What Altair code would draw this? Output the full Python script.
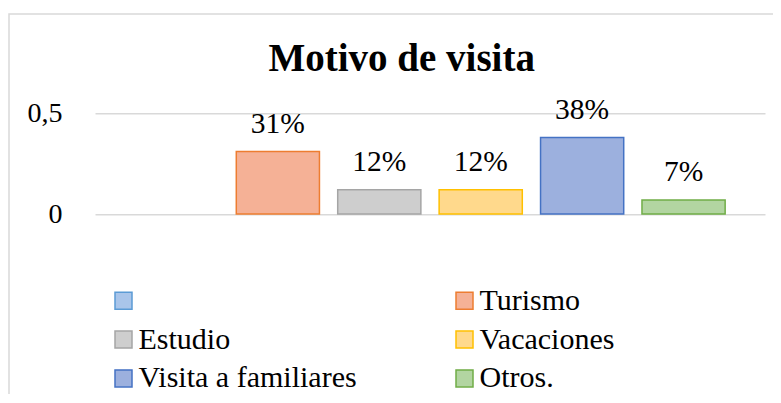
import altair as alt
import pandas as pd

FONT = "Liberation Serif"

categories = ["", "Turismo", "Estudio", "Vacaciones", "Visita a familiares", "Otros."]
values = [None, 0.31, 0.12, 0.12, 0.38, 0.07]
fill_colors = ["#a9c5ea", "#f5b196", "#cecece", "#ffd98c", "#9cb0de", "#b2d5a1"]
stroke_colors = ["#5b9bd5", "#ed7d31", "#a5a5a5", "#ffc000", "#4472c4", "#70ad47"]
y_ticks = [0, 0.5]

df = pd.DataFrame({"cat": categories, "val": values})

legend = alt.Legend(
    title=None, orient="none", legendX=13.5, legendY=172.5, columns=2,
    columnPadding=92, rowPadding=8.8, symbolType="square", symbolSize=289,
    symbolStrokeWidth=1.5, labelFont=FONT, labelFontSize=30, labelColor="black",
    labelLimit=400, labelOffset=0, direction="horizontal",
)

x_enc = alt.X("cat:N", scale=alt.Scale(domain=categories, paddingInner=0.18, paddingOuter=0.393), axis=None)
y_enc = alt.Y(
    "val:Q",
    scale=alt.Scale(domain=[0, 0.5]),
    axis=alt.Axis(
        values=y_ticks,
        labelExpr="replace(format(datum.value, '.1~f'), '.', ',')",
        domain=False, ticks=False, grid=True, gridColor="#d9d9d9", gridWidth=1.5,
        labelFont=FONT, labelFontSize=28, labelColor="black", labelPadding=33, title=None,
    ),
)

base = alt.Chart(df)

bars = base.mark_bar(strokeWidth=1.5).encode(
    x=x_enc,
    y=y_enc,
    fill=alt.Fill("cat:N", scale=alt.Scale(domain=categories, range=fill_colors), legend=legend),
    stroke=alt.Stroke("cat:N", scale=alt.Scale(domain=categories, range=stroke_colors), legend=legend),
)

labels = base.mark_text(dy=-18.6, baseline="alphabetic", font=FONT, fontSize=29.5, color="black").encode(
    x=x_enc,
    y=y_enc,
    text=alt.Text("val:Q", format=".0%"),
)

frame = alt.Chart(pd.DataFrame({"f": [0]})).mark_rect(
    fillOpacity=0, stroke="#d9d9d9", strokeWidth=1.5
).encode(
    x=alt.value(-86), x2=alt.value(720), y=alt.value(-99.3), y2=alt.value(330)
)

chart = alt.layer(frame, bars, labels).properties(
    width=670,
    height=100.7,
    autosize=alt.AutoSizeParams(type="none"),
    padding={"left": 87, "top": 105.3, "right": 8, "bottom": 180},
    title=alt.TitleParams(
        "Motivo de visita", font=FONT, fontSize=39, fontWeight="bold", color="black",
        anchor="middle", frame="group", dx=-28.3, offset=-96.75, baseline="alphabetic",
    ),
    background="white",
).configure(font=FONT).configure_view(stroke=None).configure_text(font=FONT).configure_legend(labelFont=FONT)

chart.save("out.html", embed_options={"renderer": "svg", "actions": False})
